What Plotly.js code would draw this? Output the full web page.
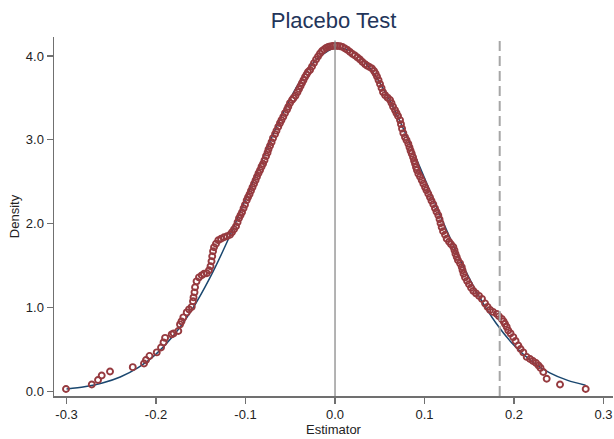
<!DOCTYPE html>
<html>
<head>
<meta charset="utf-8">
<script src="https://cdn.plot.ly/plotly-3.0.1.min.js"></script>
<style>html,body{margin:0;padding:0;background:#fff;}#chart{width:614px;height:439px;}</style>
</head>
<body>
<div id="chart"></div>
<script>
// Kernel density of placebo estimates (red hollow circles)
var estX = [-0.3006,-0.2718,-0.2648,-0.2607,-0.2514,-0.2260,-0.2134,-0.2112,-0.2073,-0.1992,-0.1944,-0.1916,-0.1899,-0.1825,-0.1804,-0.1751,-0.1732,-0.1715,-0.1695,-0.1657,-0.1631,-0.1601,-0.1587,-0.1581,-0.1570,-0.1564,-0.1547,-0.1520,-0.1489,-0.1464,-0.1433,-0.1408,-0.1391,-0.1380,-0.1372,-0.1363,-0.1352,-0.1330,-0.1304,-0.1274,-0.1240,-0.1207,-0.1173,-0.1151,-0.1128,-0.1106,-0.1089,-0.1073,-0.1056,-0.1039,-0.1022,-0.1006,-0.0987,-0.0972,-0.0955,-0.0939,-0.0922,-0.0905,-0.0888,-0.0872,-0.0855,-0.0838,-0.0821,-0.0804,-0.0788,-0.0771,-0.0754,-0.0743,-0.0726,-0.0709,-0.0693,-0.0670,-0.0654,-0.0634,-0.0615,-0.0598,-0.0578,-0.0559,-0.0536,-0.0522,-0.0503,-0.0480,-0.0464,-0.0441,-0.0419,-0.0402,-0.0385,-0.0369,-0.0352,-0.0335,-0.0318,-0.0302,-0.0279,-0.0257,-0.0235,-0.0212,-0.0190,-0.0168,-0.0145,-0.0123,-0.0101,-0.0078,-0.0056,-0.0028,0.0000,
0.0028,0.0056,0.0084,0.0112,0.0140,0.0168,0.0196,0.0223,0.0251,0.0279,0.0307,0.0335,0.0358,0.0385,0.0413,0.0436,0.0453,0.0469,0.0486,0.0503,0.0520,0.0536,0.0559,0.0587,0.0615,0.0631,0.0648,0.0670,0.0687,0.0704,0.0726,0.0737,0.0749,0.0763,0.0782,0.0799,0.0819,0.0832,0.0844,0.0857,0.0872,0.0883,0.0894,0.0905,0.0916,0.0931,0.0950,0.0969,0.0987,0.1006,0.1022,0.1042,0.1061,0.1078,0.1098,0.1117,0.1134,0.1154,0.1168,0.1179,0.1192,0.1207,0.1229,0.1248,0.1274,0.1296,0.1322,0.1335,0.1346,0.1360,0.1374,0.1397,0.1416,0.1425,0.1436,0.1452,0.1475,0.1497,0.1520,0.1545,0.1575,0.1609,0.1642,0.1676,0.1704,0.1732,0.1765,0.1807,0.1832,0.1863,0.1883,0.1899,0.1918,0.1936,0.1961,0.1992,0.2017,0.2048,0.2073,0.2104,0.2142,0.2179,0.2212,0.2246,0.2274,0.2296,0.2327,0.2365,0.2514,0.2801];
var estDensity = [0.030,0.084,0.137,0.191,0.239,0.290,0.334,0.376,0.424,0.466,0.525,0.585,0.639,0.681,0.693,0.722,0.800,0.836,0.884,0.943,0.979,1.009,1.075,1.122,1.182,1.242,1.313,1.361,1.385,1.403,1.409,1.445,1.493,1.552,1.612,1.672,1.719,1.761,1.803,1.821,1.839,1.851,1.869,1.898,1.934,1.970,2.018,2.066,2.101,2.137,2.185,2.227,2.281,2.316,2.352,2.394,2.436,2.478,2.519,2.561,2.603,2.639,2.681,2.716,2.758,2.806,2.848,2.889,2.931,2.973,3.021,3.069,3.110,3.156,3.200,3.236,3.275,3.319,3.361,3.395,3.439,3.475,3.498,3.528,3.570,3.606,3.642,3.678,3.713,3.749,3.779,3.809,3.833,3.875,3.916,3.958,3.994,4.030,4.060,4.078,4.095,4.107,4.113,4.119,4.119,
4.119,4.116,4.107,4.090,4.072,4.048,4.024,4.006,3.982,3.958,3.928,3.904,3.886,3.869,3.851,3.821,3.791,3.755,3.713,3.666,3.618,3.570,3.534,3.504,3.475,3.439,3.397,3.355,3.319,3.284,3.236,3.188,3.134,3.081,3.033,2.997,2.955,2.913,2.872,2.836,2.794,2.752,2.716,2.675,2.639,2.597,2.561,2.519,2.478,2.436,2.400,2.358,2.316,2.275,2.233,2.185,2.143,2.101,2.054,2.006,1.958,1.910,1.869,1.821,1.785,1.755,1.723,1.684,1.642,1.604,1.564,1.528,1.484,1.445,1.403,1.361,1.319,1.278,1.236,1.200,1.170,1.140,1.104,1.051,1.009,0.973,0.949,0.925,0.896,0.866,0.836,0.806,0.770,0.728,0.693,0.648,0.603,0.549,0.507,0.466,0.412,0.388,0.364,0.340,0.310,0.281,0.233,0.152,0.084,0.030];

// Normal density reference curve (blue line)
var normX = [-0.30,-0.28,-0.26,-0.24,-0.22,-0.20,-0.18,-0.16,-0.14,-0.12,-0.10,-0.08,-0.06,-0.04,-0.02,0.00,0.02,0.04,0.06,0.08,0.10,0.12,0.14,0.16,0.18,0.20,0.22,0.24,0.26,0.28];
var normDensity = [0.030,0.056,0.100,0.172,0.283,0.446,0.673,0.973,1.351,1.797,2.291,2.800,3.280,3.684,3.967,4.095,4.052,3.843,3.494,3.046,2.545,2.039,1.566,1.152,0.813,0.550,0.357,0.222,0.132,0.075];

// Reference lines
var zeroLine = 0.0;
var trueEstimate = 0.184;

// Axis ticks
var xTicks = [-0.3,-0.2,-0.1,0.0,0.1,0.2,0.3];
var xTickLabels = ["-0.3","-0.2","-0.1","0.0","0.1","0.2","0.3"];
var yTicks = [0,1,2,3,4];
var yTickLabels = ["0.0","1.0","2.0","3.0","4.0"];

var FONT = "Liberation Sans, Arial, sans-serif";

var traces = [
  {
    x: normX, y: normDensity, type: "scatter", mode: "lines",
    line: {color: "#1a476f", width: 1.5, shape: "spline", smoothing: 0.8},
    hoverinfo: "skip", showlegend: false
  },
  {
    x: estX, y: estDensity, type: "scatter", mode: "markers",
    marker: {symbol: "circle-open", size: 6, color: "#963a3f",
             line: {color: "#963a3f", width: 1.9}},
    showlegend: false
  }
];

var layout = {
  width: 614, height: 439,
  margin: {l: 54, r: 1, t: 37, b: 43, pad: 0},
  paper_bgcolor: "#ffffff", plot_bgcolor: "#ffffff",
  font: {family: FONT, size: 13, color: "#222222"},
  title: {text: "Placebo Test", x: 0.5, xref: "paper", xanchor: "center",
          y: 0.954, yref: "container", yanchor: "middle",
          font: {family: FONT, size: 22, color: "#23355a"}},
  showlegend: false,
  xaxis: {
    range: [-0.314, 0.3106], showgrid: false, zeroline: false,
    showline: true, linecolor: "#707070", linewidth: 1.5,
    ticks: "outside", ticklen: 6, tickcolor: "#707070", tickwidth: 1.2,
    tickvals: xTicks, ticktext: xTickLabels,
    tickfont: {family: FONT, size: 13, color: "#222222"},
    title: {text: "Estimator", font: {family: FONT, size: 13, color: "#222222"}, standoff: 2}
  },
  yaxis: {
    range: [-0.054, 4.227], showgrid: false, zeroline: false,
    showline: true, linecolor: "#707070", linewidth: 1.5,
    ticks: "outside", ticklen: 6, tickcolor: "#707070", tickwidth: 1.2,
    tickvals: yTicks, ticktext: yTickLabels,
    tickfont: {family: FONT, size: 13, color: "#222222"},
    title: {text: "Density", font: {family: FONT, size: 13, color: "#222222"}, standoff: 3}
  },
  shapes: [
    {type: "line", xref: "x", yref: "paper", x0: zeroLine, x1: zeroLine, y0: 0, y1: 0.99,
     line: {color: "#8a8a8a", width: 1.3}},
    {type: "line", xref: "x", yref: "paper", x0: trueEstimate, x1: trueEstimate, y0: 0, y1: 0.99,
     line: {color: "#a6a6a6", width: 2, dash: "10px,5px"}}
  ]
};

Plotly.newPlot("chart", traces, layout, {displayModeBar: false, staticPlot: true});
</script>
</body>
</html>
